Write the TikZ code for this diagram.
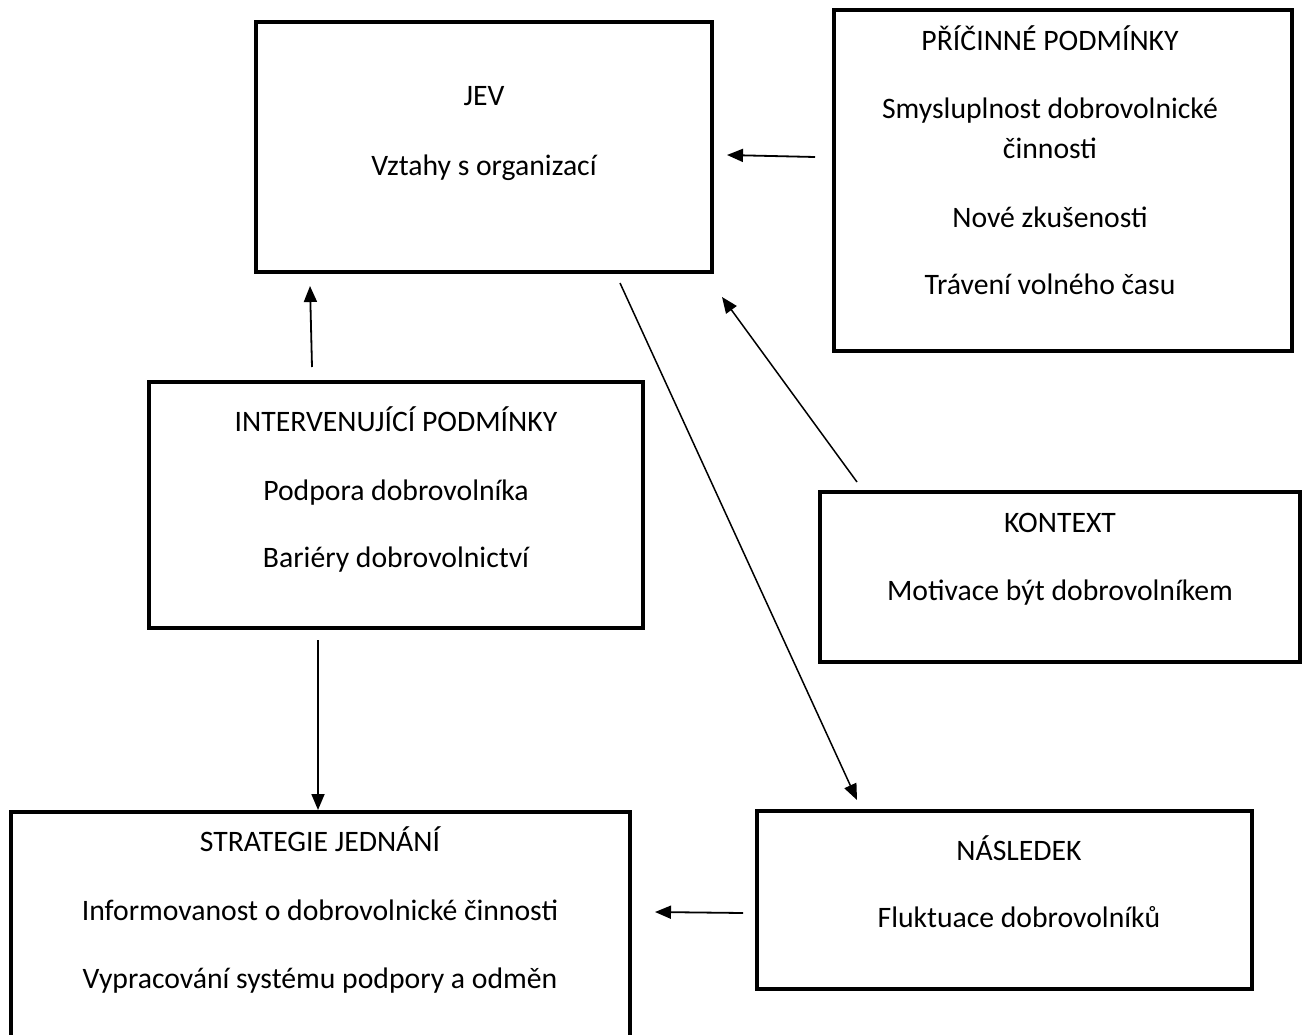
\documentclass[tikz,border=0pt]{standalone}
\usepackage{fontspec}
\setmainfont{Carlito}
\usetikzlibrary{arrows.meta}

\tikzset{
  box/.style={draw, rectangle, line width=4pt, inner sep=0pt},
  txt/.style={anchor=base, inner sep=0pt, font=\fontsize{29.7}{35}\selectfont},
  arr/.style={-{Triangle[length=16pt,width=13pt]}, line width=1.8pt},
}

\begin{document}
\begin{tikzpicture}[x=1pt, y=-1pt]
  \fill[white] (0,0) rectangle (1303,1035);
  \useasboundingbox (0,0) rectangle (1303,1035);

  % boxes
  \node[box, minimum width=456pt, minimum height=250pt] (jev) at (484,147) {};
  \node[box, minimum width=458pt, minimum height=341pt] (pric) at (1063,180.5) {};
  \node[box, minimum width=494pt, minimum height=246pt] (interv) at (396,505) {};
  \node[box, minimum width=480pt, minimum height=170pt] (kontext) at (1060,577) {};
  \node[box, minimum width=619pt, minimum height=250pt] (strat) at (320.5,937) {};
  \node[box, minimum width=495pt, minimum height=178pt] (nasl) at (1004.5,900) {};

  % texts
  \node[txt] (jevA) at (484,106) {JEV};
  \node[txt] (jevB) at (484,176) {Vztahy s organizací};

  \node[txt] (pricA) at (1050,51) {PŘÍČINNÉ PODMÍNKY};
  \node[txt] (pricB) at (1050,119) {Smysluplnost dobrovolnické};
  \node[txt] (pricC) at (1050,159) {činnosti};
  \node[txt] (pricD) at (1050,227) {Nové zkušenosti};
  \node[txt] (pricE) at (1050,294) {Trávení volného času};

  \node[txt] (intA) at (396,431) {INTERVENUJÍCÍ PODMÍNKY};
  \node[txt] (intB) at (396,500) {Podpora dobrovolníka};
  \node[txt] (intC) at (396,567) {Bariéry dobrovolnictví};

  \node[txt] (konA) at (1060,532) {KONTEXT};
  \node[txt] (konB) at (1060,600) {Motivace být dobrovolníkem};

  \node[txt] (strA) at (320,851) {STRATEGIE JEDNÁNÍ};
  \node[txt] (strB) at (320,920) {Informovanost o dobrovolnické činnosti};
  \node[txt] (strC) at (320,988) {Vypracování systému podpory a odměn};

  \node[txt] (nasA) at (1019,860) {NÁSLEDEK};
  \node[txt] (nasB) at (1019,927) {Fluktuace dobrovolníků};

  % free ends of the arrows
  \coordinate (pricOut) at (815,157);
  \coordinate (jevInR) at (727,155);
  \coordinate (intOut) at (312,367);
  \coordinate (jevInB) at (310,286);
  \coordinate (konOut) at (857,482);
  \coordinate (jevInD) at (722,297);
  \coordinate (intDown) at (318,640);
  \coordinate (jevOut) at (620,283);
  \coordinate (naslIn) at (857,800);
  \coordinate (naslOut) at (743,913);
  \coordinate (strIn) at (655,912);

  % arrows
  \draw[arr] (pricOut) -- (jevInR);
  \draw[arr] (intOut) -- (jevInB);
  \draw[arr, line width=1.5pt] (konOut) -- (jevInD);
  \draw[arr] (intDown) -- (intDown |- strat.north);
  \draw[arr, line width=1.5pt] (jevOut) -- (naslIn);
  \draw[arr] (naslOut) -- (strIn);
\end{tikzpicture}
\end{document}
